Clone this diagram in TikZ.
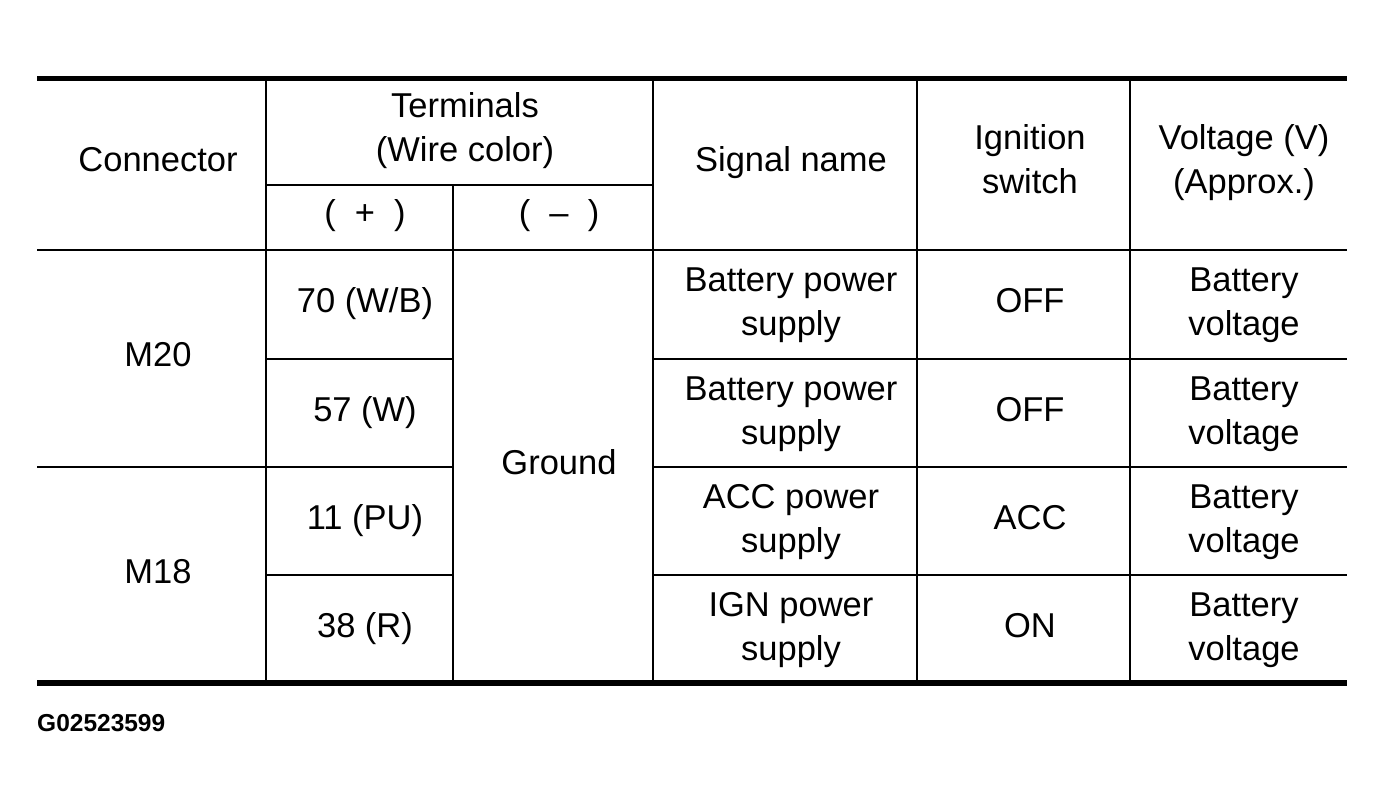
\documentclass[tikz,border=0pt]{standalone}
\usepackage{fontspec}
\setmainfont{Liberation Sans}
\begin{document}
\begin{tikzpicture}[x=1pt,y=-1pt,
  rule/.style={line width=2.6pt},
  heavyrule/.style={line width=5.5pt},
  txt/.style={anchor=base, inner sep=0pt, font=\fontsize{34.5}{40}\selectfont},
  code/.style={anchor=base west, inner sep=0pt, font=\fontsize{24.5}{28}\selectfont\bfseries}]
\useasboundingbox (0,0) rectangle (1384,805);
% vertical rules
\foreach \x in {266,653,917,1130} \draw[rule] (\x,78) -- (\x,683);
\draw[rule] (453,185) -- (453,683);
% horizontal rules
\draw[rule] (266,185) -- (653,185);
\draw[rule] (37,250) -- (1347,250);
\draw[rule] (266,359) -- (453,359);
\draw[rule] (653,359) -- (1347,359);
\draw[rule] (37,467) -- (453,467);
\draw[rule] (653,467) -- (1347,467);
\draw[rule] (266,575) -- (453,575);
\draw[rule] (653,575) -- (1347,575);
\draw[heavyrule] (37,78.5) -- (1347,78.5);
\draw[heavyrule] (37,683) -- (1347,683);
% header
\node[txt] (hconn) at (158,172) {Connector};
\node[txt] (hterm1) at (465,118) {Terminals};
\node[txt] (hterm2) at (465,162) {(Wire color)};
\node[txt] (hplus) at (365,225) {(~~+~~)};
\node[txt] (hminus) at (559,225) {(~~–~~)};
\node[txt] (hsig) at (791,172) {Signal name};
\node[txt] (hign1) at (1030,150) {Ignition};
\node[txt] (hign2) at (1030,194) {switch};
\node[txt] (hvolt1) at (1244,150) {Voltage (V)};
\node[txt] (hvolt2) at (1244,194) {(Approx.)};
% connectors
\node[txt] (m20) at (158,366) {M20};
\node[txt] (m18) at (158,583) {M18};
\node[txt] (gnd) at (559,474) {Ground};
% row 1
\node[txt] (t1) at (365,312) {70 (W/B)};
\node[txt] (s1a) at (791,291) {Battery power};
\node[txt] (s1b) at (791,335) {supply};
\node[txt] (i1) at (1030,312) {OFF};
\node[txt] (v1a) at (1244,291) {Battery};
\node[txt] (v1b) at (1244,335) {voltage};
% row 2
\node[txt] (t2) at (365,421) {57 (W)};
\node[txt] (s2a) at (791,400) {Battery power};
\node[txt] (s2b) at (791,444) {supply};
\node[txt] (i2) at (1030,421) {OFF};
\node[txt] (v2a) at (1244,400) {Battery};
\node[txt] (v2b) at (1244,444) {voltage};
% row 3
\node[txt] (t3) at (365,529) {11 (PU)};
\node[txt] (s3a) at (791,508) {ACC power};
\node[txt] (s3b) at (791,552) {supply};
\node[txt] (i3) at (1030,529) {ACC};
\node[txt] (v3a) at (1244,508) {Battery};
\node[txt] (v3b) at (1244,552) {voltage};
% row 4
\node[txt] (t4) at (365,637) {38 (R)};
\node[txt] (s4a) at (791,616) {IGN power};
\node[txt] (s4b) at (791,660) {supply};
\node[txt] (i4) at (1030,637) {ON};
\node[txt] (v4a) at (1244,616) {Battery};
\node[txt] (v4b) at (1244,660) {voltage};
% figure code
\node[code] (fig) at (37,731) {G02523599};
\end{tikzpicture}
\end{document}
